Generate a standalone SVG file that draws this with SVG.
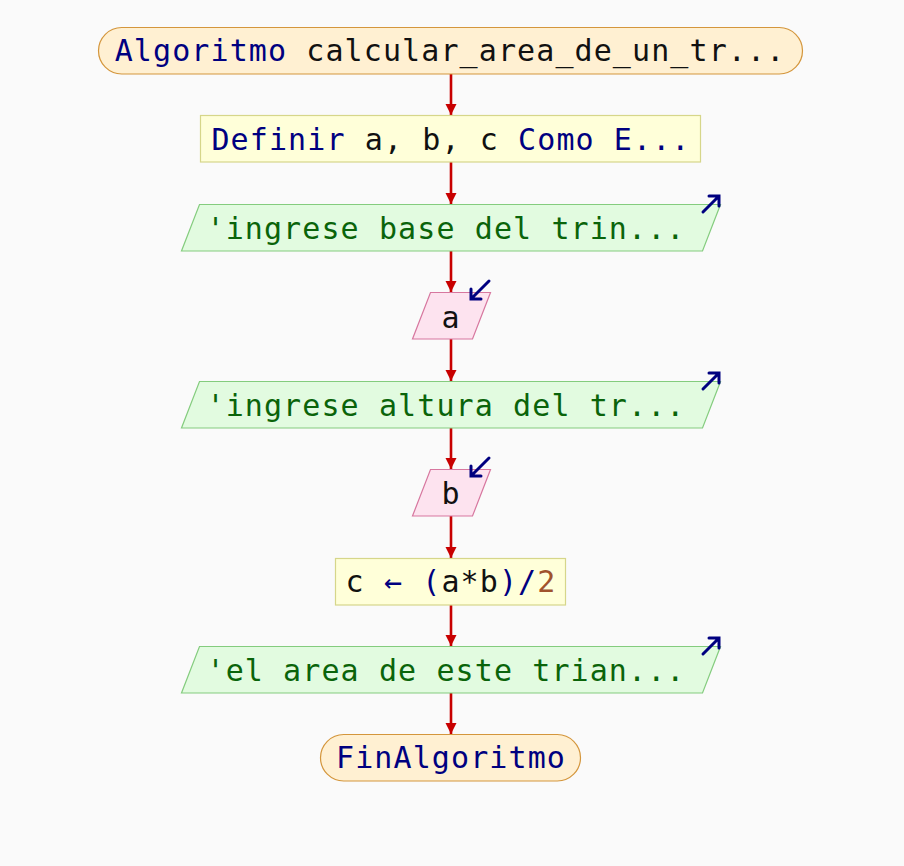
<svg xmlns="http://www.w3.org/2000/svg" width="904" height="866" viewBox="0 0 904 866">
  <defs>
    <style>
      .t { font-family: "DejaVu Sans Mono", "Liberation Mono", monospace; font-size: 30px; letter-spacing: 1.1px; text-anchor: middle; }
      .kw { fill: #000080; }
      .id { fill: #111111; }
      .str { fill: #0a640a; }
      .num { fill: #a0522d; }
      .term { fill: #fff0d2; stroke: #d4963c; stroke-width: 1.2; }
      .proc { fill: #ffffd9; stroke: #d6d68a; stroke-width: 1.2; }
      .out { fill: #e2fbe0; stroke: #84cc7e; stroke-width: 1.2; }
      .in { fill: #fde3ef; stroke: #d7779f; stroke-width: 1.2; }
      .edge { stroke: #c80000; stroke-width: 2.6; fill: none; marker-end: url(#ah); }
      .icon { stroke: #000080; stroke-width: 3; fill: none; stroke-linecap: round; stroke-linejoin: miter; }
    </style>
    <marker id="ah" viewBox="0 0 10 10" refX="10" refY="5" markerWidth="4.4" markerHeight="4.4" orient="auto" markerUnits="strokeWidth">
      <path d="M0,0 L10,5 L0,10 z" fill="#c80000"/>
    </marker>
  </defs>

  <rect width="904" height="866" fill="#fafafa"/>

  <g id="connectors">
    <line class="edge" x1="451" y1="74" x2="451" y2="115"/>
    <line class="edge" x1="451" y1="162" x2="451" y2="204"/>
    <line class="edge" x1="451" y1="251" x2="451" y2="292"/>
    <line class="edge" x1="451" y1="339" x2="451" y2="381"/>
    <line class="edge" x1="451" y1="428" x2="451" y2="469"/>
    <line class="edge" x1="451" y1="516" x2="451" y2="558"/>
    <line class="edge" x1="451" y1="605" x2="451" y2="646"/>
    <line class="edge" x1="451" y1="693" x2="451" y2="734"/>
  </g>

  <g id="inicio">
    <rect class="term" x="98.5" y="27.5" width="704" height="46.5" rx="23.25"/>
    <text class="t" x="450" y="61"><tspan class="kw">Algoritmo</tspan><tspan class="id"> calcular_area_de_un_tr...</tspan></text>
  </g>

  <g id="definir">
    <rect class="proc" x="200.5" y="115.5" width="500" height="46.5"/>
    <text class="t" x="451" y="150"><tspan class="kw">Definir</tspan><tspan class="id"> a, b, c </tspan><tspan class="kw">Como E...</tspan></text>
  </g>

  <g id="escribir1">
    <polygon class="out" points="199.5,204.5 720.5,204.5 702.5,251 181.5,251"/>
    <path class="icon" d="M703,212 L718,197 M709,196 L719,196 L719,206"/>
    <text class="t str" x="446" y="239">'ingrese base del trin...</text>
  </g>

  <g id="leer_a">
    <polygon class="in" points="430.5,292.5 490.5,292.5 472.5,339 412.5,339"/>
    <path class="icon" d="M489,281 L472,298 M471,289 L471,299 L481,299"/>
    <text class="t id" x="451" y="328">a</text>
  </g>

  <g id="escribir2">
    <polygon class="out" points="199.5,381.5 720.5,381.5 702.5,428 181.5,428"/>
    <path class="icon" d="M703,389 L718,374 M709,373 L719,373 L719,383"/>
    <text class="t str" x="446" y="416">'ingrese altura del tr...</text>
  </g>

  <g id="leer_b">
    <polygon class="in" points="430.5,469.5 490.5,469.5 472.5,516 412.5,516"/>
    <path class="icon" d="M489,458 L472,475 M471,466 L471,476 L481,476"/>
    <text class="t id" x="451" y="504">b</text>
  </g>

  <g id="asignar_c">
    <rect class="proc" x="335.5" y="558.5" width="230" height="46.5"/>
    <text class="t" x="451" y="592"><tspan class="id">c </tspan><tspan class="kw">← (</tspan><tspan class="id">a*b</tspan><tspan class="kw">)/</tspan><tspan class="num">2</tspan></text>
  </g>

  <g id="escribir3">
    <polygon class="out" points="199.5,646.5 720.5,646.5 702.5,693 181.5,693"/>
    <path class="icon" d="M703,654 L718,639 M709,638 L719,638 L719,648"/>
    <text class="t str" x="446" y="681">'el area de este trian...</text>
  </g>

  <g id="fin">
    <rect class="term" x="320.5" y="734.5" width="260" height="46.5" rx="23.25"/>
    <text class="t kw" x="451" y="768">FinAlgoritmo</text>
  </g>
</svg>
